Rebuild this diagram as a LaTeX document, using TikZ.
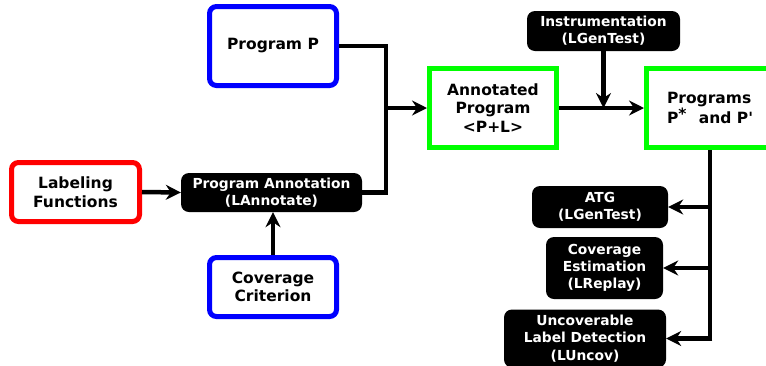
\documentclass[tikz,border=0pt]{standalone}
\usepackage{fontspec}
\newfontfamily\djfont{DejaVu Sans}
\usetikzlibrary{arrows.meta}
\definecolor{rbox}{RGB}{255,0,0}
\definecolor{bbox}{RGB}{0,0,255}
\definecolor{gbox}{RGB}{0,255,0}
\begin{document}
\begin{tikzpicture}[x=1pt,y=-1pt,
  whitebox/.style={draw, line width=5pt, fill=white, inner sep=0pt, align=center,
    font=\djfont\fontsize{15.5}{18.5}\selectfont\bfseries},
  roundbox/.style={whitebox, rounded corners=7pt},
  blackbox/.style={fill=black, text=white, rounded corners=8pt, inner sep=0pt, align=center,
    font=\djfont\fontsize{13.8}{17.2}\selectfont\bfseries},
  conn/.style={line width=4.5pt},
  arr/.style={conn, -{Stealth[length=15pt,width=15pt,inset=5pt]}},
]
\useasboundingbox (0,0) rectangle (766,365);
\clip (0,0) rectangle (766,365);

\node[roundbox, draw=rbox, minimum width=128pt, minimum height=59pt] (lab) at (75.5,192) {Labeling\\Functions};
\node[blackbox, minimum width=181pt, minimum height=39pt] (pa) at (271.5,192.5) {Program Annotation\\(LAnnotate)};
\node[roundbox, draw=bbox, minimum width=127pt, minimum height=59pt] (cc) at (273,287) {Coverage\\Criterion};
\node[roundbox, draw=bbox, minimum width=127pt, minimum height=79pt] (pp) at (273,46) {Program P};
\node[whitebox, draw=gbox, minimum width=127pt, minimum height=79pt] (ap) at (493,108) {Annotated\\Program\\<P+L>};
\node[blackbox, minimum width=153pt, minimum height=40pt] (inst) at (603.5,31) {Instrumentation\\(LGenTest)};
\node[whitebox, draw=gbox, minimum width=127pt, minimum height=79pt, text width=110pt, align=left] (prog) at (710,108) {\hspace*{12pt}Programs\\\hspace*{12pt}P\raisebox{4pt}{*}\hspace{0.8em}and\hspace{0.35em}P'};
\node[blackbox, minimum width=136pt, minimum height=42pt] (atg) at (600,207) {ATG\\(LGenTest)};
\node[blackbox, minimum width=117pt, minimum height=62pt] (ce) at (604.5,268) {Coverage\\Estimation\\(LReplay)};
\node[blackbox, minimum width=162pt, minimum height=58pt] (unc) at (585,338.5) {Uncoverable\\Label Detection\\(LUncov)};

\coordinate (j) at (386,108);
\coordinate (k) at (inst.south |- ap.east);
\coordinate (b1) at (prog.south |- atg.east);
\coordinate (b2) at (prog.south |- ce.east);
\coordinate (b3) at (prog.south |- unc.east);

\draw[arr] (lab.east) -- (pa.west);
\draw[arr] (cc.north) -- (cc.north |- pa.south);
\draw[conn] (pp.east) -| (j);
\draw[conn] (pa.east) -| (j);
\draw[arr] (j) -- (ap.west);
\draw[arr] (ap.east) -- (prog.west);
\draw[arr] (inst.south) -- (k);
\draw[conn] (prog.south) -- (b3);
\draw[arr] (b1) -- (atg.east);
\draw[arr] (b2) -- (ce.east);
\draw[arr] ([xshift=2.25pt]b3) -- (unc.east);
\end{tikzpicture}
\end{document}
